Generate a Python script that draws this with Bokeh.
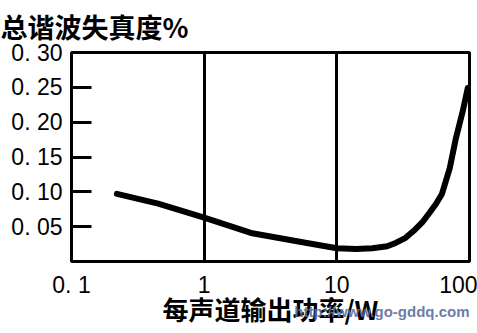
from bokeh.plotting import figure
from bokeh.models import FixedTicker, Title
from bokeh.embed import file_html
from bokeh.resources import INLINE

# Data
power_w = [0.22, 0.45, 1.0, 2.25, 5.8, 10, 14, 18.5, 24, 28, 33, 38, 44, 50, 56, 62, 71, 79, 89, 97]
thd_pct = [0.097, 0.083, 0.063, 0.041, 0.027, 0.019, 0.018, 0.019, 0.022, 0.027, 0.034, 0.044, 0.056, 0.070, 0.083, 0.097, 0.134, 0.177, 0.216, 0.249]

x_ticks = [0.1, 1, 10, 100]
x_tick_labels = ["0. 1", "1", "10", "100"]
y_ticks = [0.05, 0.10, 0.15, 0.20, 0.25, 0.30]
y_tick_labels = ["0. 05", "0. 10", "0. 15", "0. 20", "0. 25", "0. 30"]
grid_x = [1, 10]

title_text = "总谐波失真度%"
x_label = "每声道输出功率/W"
watermark = "http://www.go-gddq.com"

p = figure(width=477, height=333, x_axis_type="log", x_range=(0.1, 100), y_range=(0, 0.30),
           output_backend="svg", toolbar_location=None,
           min_border_left=71, min_border_right=8, min_border_top=52, min_border_bottom=72)
p.background_fill_color = "white"
p.border_fill_color = "white"
p.outline_line_color = "black"
p.outline_line_width = 3

p.line(power_w, thd_pct, line_color="black", line_width=6, line_cap="round", line_join="round")

# x axis
p.xaxis.ticker = FixedTicker(ticks=x_ticks)
p.xaxis.major_label_overrides = {t: l for t, l in zip(x_ticks, x_tick_labels)}
p.xaxis.major_tick_in = 0
p.xaxis.major_tick_out = 0
p.xaxis.minor_tick_in = 0
p.xaxis.minor_tick_out = 0
p.xaxis.axis_line_width = 3
p.xaxis.axis_line_color = "black"
p.xaxis.major_label_standoff = 10
p.xaxis.major_label_text_font = "Liberation Sans"
p.xaxis.major_label_text_font_size = "23px"
p.xaxis.major_label_text_color = "black"
p.xaxis.axis_label = x_label
p.xaxis.axis_label_text_font = "Noto Sans CJK SC"
p.xaxis.axis_label_text_font_style = "bold"
p.xaxis.axis_label_text_font_size = "26px"
p.xaxis.axis_label_text_color = "black"
p.xaxis.axis_label_standoff = -11

# y axis
p.yaxis.ticker = FixedTicker(ticks=y_ticks)
p.yaxis.major_label_overrides = {t: l for t, l in zip(y_ticks, y_tick_labels)}
p.yaxis.major_tick_in = 20
p.yaxis.major_tick_out = 0
p.yaxis.major_tick_line_width = 3
p.yaxis.major_tick_line_color = "black"
p.yaxis.minor_tick_in = 0
p.yaxis.minor_tick_out = 0
p.yaxis.axis_line_width = 3
p.yaxis.axis_line_color = "black"
p.yaxis.major_label_standoff = 9
p.yaxis.major_label_text_font = "Liberation Sans"
p.yaxis.major_label_text_font_size = "23px"
p.yaxis.major_label_text_color = "black"

# grid
p.xgrid.ticker = FixedTicker(ticks=grid_x)
p.xgrid.grid_line_color = "black"
p.xgrid.grid_line_width = 3
p.xgrid.grid_line_alpha = 1.0
p.ygrid.visible = False

# title
p.title.text = title_text
p.title.align = "left"
p.title.vertical_align = "top"
p.title.offset = -71
p.title.text_font = "Noto Sans CJK SC"
p.title.text_font_style = "bold"
p.title.text_font_size = "27px"
p.title.text_color = "black"
p.title.standoff = 10

# watermark, drawn over the axis label
wm = Title(text=watermark, align="right", vertical_align="top", offset=0, standoff=-54,
           text_font="Liberation Sans", text_font_style="bold", text_font_size="15px",
           text_color="#5a6a9a", text_alpha=0.9)
p.add_layout(wm, "below")

open("out.html", "w").write(file_html(p, INLINE))
